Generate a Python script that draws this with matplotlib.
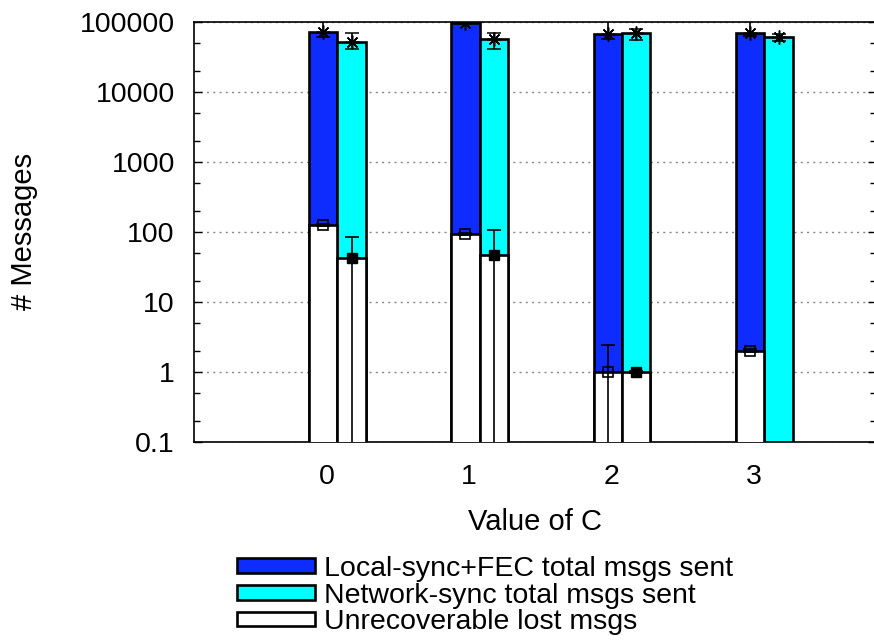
import matplotlib
matplotlib.use("Agg")
import matplotlib.pyplot as plt
from matplotlib.patches import Patch
from matplotlib.ticker import LogLocator, FixedLocator, NullFormatter
import numpy as np

plt.rcParams['font.family'] = ['Liberation Sans', 'DejaVu Sans']

# ---- data ----
c_values = [0, 1, 2, 3]
c_labels = ["0", "1", "2", "3"]

local_total = [72000, 95000, 66000, 70000]
local_total_lo = [60000, 93000, 56000, 62000]
local_total_hi = [130000, 98000, 130000, 130000]

net_total = [52000, 56000, 68000, 60500]
net_total_lo = [41300, 41000, 55000, 53000]
net_total_hi = [69700, 68000, 78000, 66000]

local_lost = [124, 92, 1, 2]
local_lost_lo = [120, 89, 0.01, 1.9]
local_lost_hi = [128, 95, 2.4, 2.1]

net_lost = [42, 46, 1, 0]
net_lost_lo = [0.01, 0.01, 0.97, 0]
net_lost_hi = [85, 105, 1.03, 0]

legend_labels = ["Local-sync+FEC total msgs sent",
                 "Network-sync total msgs sent",
                 "Unrecoverable lost msgs"]

BLUE = "#0f2cff"
CYAN = "#00ffff"

fig = plt.figure(figsize=(8.74, 6.43), dpi=100)
W, H = 874, 643
l, r, t, b = 194.3, 876, 21.7, 441.7
ax = fig.add_axes([l / W, 1 - b / H, (r - l) / W, (b - t) / H])

x = np.array(c_values, dtype=float)
width = 0.2
xb = x - 0.025
xc = x + 0.175

ax.set_yscale("log")
ax.set_ylim(0.1, 100000)
ax.set_xlim(-0.93, 3.86)

lw = 1.9
ax.bar(xb, local_total, width, bottom=0, color=BLUE, edgecolor="black", linewidth=lw, zorder=2)
ax.bar(xc, net_total, width, bottom=0, color=CYAN, edgecolor="black", linewidth=lw, zorder=2)

nl = np.array(net_lost, dtype=float)
ax.bar(xb, local_lost, width, color="white", edgecolor="black", linewidth=lw, zorder=3)
mask = nl > 0
ax.bar(xc[mask], nl[mask], width, color="white", edgecolor="black", linewidth=lw, zorder=3)

def errs(mean, lo, hi):
    m = np.array(mean, dtype=float)
    return np.vstack([m - np.array(lo, dtype=float), np.array(hi, dtype=float) - m])

ek = dict(ecolor="black", elinewidth=1.2, capsize=5, capthick=1.2, zorder=4, linestyle="none")
ax.errorbar(xb, local_total, yerr=errs(local_total, local_total_lo, local_total_hi),
            marker=(8, 2, 0), markersize=10, color="black", markeredgewidth=1.1, **ek)
ax.errorbar(xc, net_total, yerr=errs(net_total, net_total_lo, net_total_hi),
            marker=(8, 2, 0), markersize=10, color="black", markeredgewidth=1.1, **ek)
ax.errorbar(xb, local_lost, yerr=errs(local_lost, local_lost_lo, local_lost_hi),
            marker="s", markersize=6.5, markerfacecolor="none", markeredgecolor="black",
            markeredgewidth=1.2, **ek)
ax.errorbar(xc[mask], nl[mask], yerr=errs(nl, net_lost_lo, net_lost_hi)[:, mask],
            marker="s", markersize=7, markerfacecolor="black", markeredgecolor="black", **ek)

# grid
ax.yaxis.set_major_locator(FixedLocator([0.1, 1, 10, 100, 1000, 10000, 100000]))
ax.yaxis.set_minor_locator(LogLocator(base=10, subs=(2.0, 5.0)))
ax.yaxis.set_minor_formatter(NullFormatter())
ax.set_yticklabels(["0.1", "1", "10", "100", "1000", "10000", "100000"])
ax.grid(True, which="major", axis="y", linestyle=(0, (1.5, 3)), color="#888888", linewidth=1.0, zorder=0)
ax.set_axisbelow(True)

ax.set_xticks(x)
ax.set_xticklabels(c_labels)
ax.tick_params(axis="x", length=0, pad=16, labelsize=20.5)
ax.tick_params(axis="y", which="major", direction="in", length=6, width=1.0, right=True, labelsize=20.5, pad=14)
ax.tick_params(axis="y", which="minor", direction="in", length=4, width=1.0, right=True)

for s in ax.spines.values():
    s.set_linewidth(1.2)

ax.set_xlabel("Value of C", fontsize=21, labelpad=13)
ax.set_ylabel("# Messages", fontsize=21, labelpad=30)

handles = [Patch(facecolor=BLUE, edgecolor="black", linewidth=lw),
           Patch(facecolor=CYAN, edgecolor="black", linewidth=lw),
           Patch(facecolor="white", edgecolor="black", linewidth=lw)]
fig.legend(handles, legend_labels, loc="upper left",
           bbox_to_anchor=(237 / W, 1 - 556 / H), frameon=False, fontsize=20.5,
           handlelength=2.75, handleheight=0.42, handletextpad=0.32, labelspacing=0.02,
           borderpad=0, borderaxespad=0)

fig.savefig("out.png", dpi=100)
